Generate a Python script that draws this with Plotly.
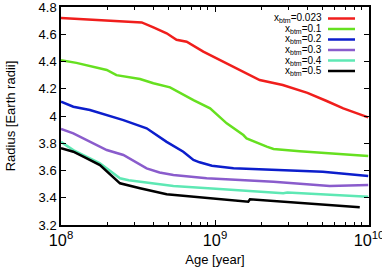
import plotly.graph_objects as go

# Data (log10 age in years, radius in Earth radii)
labels = ["x<sub>btm</sub>=0.023", "x<sub>btm</sub>=0.1", "x<sub>btm</sub>=0.2",
          "x<sub>btm</sub>=0.3", "x<sub>btm</sub>=0.4", "x<sub>btm</sub>=0.5"]
colors = ["#f01e1c", "#66e020", "#0c1ecc", "#8a5ccc", "#5ee8b4", "#000000"]

red_logt = [8.0, 8.524, 8.60, 8.686, 8.75, 8.816, 8.924, 9.03, 9.12, 9.205, 9.227, 9.29, 9.44, 9.60, 9.725, 9.833, 9.995]
red_r = [4.72, 4.687, 4.65, 4.607, 4.56, 4.545, 4.472, 4.41, 4.36, 4.31, 4.30, 4.264, 4.228, 4.17, 4.11, 4.056, 3.99]

green_logt = [8.0, 8.10, 8.297, 8.36, 8.513, 8.60, 8.708, 8.794, 8.86, 8.968, 9.076, 9.184, 9.205, 9.336, 9.38, 9.55, 9.70, 9.745, 9.995]
green_r = [4.41, 4.39, 4.338, 4.30, 4.272, 4.24, 4.21, 4.154, 4.117, 4.056, 3.946, 3.86, 3.836, 3.775, 3.758, 3.742, 3.73, 3.721, 3.706]

blue_logt = [8.0, 8.08, 8.188, 8.297, 8.405, 8.556, 8.686, 8.794, 8.86, 8.90, 8.98, 9.12, 9.38, 9.70, 9.995]
blue_r = [4.105, 4.068, 4.044, 4.007, 3.97, 3.91, 3.81, 3.738, 3.677, 3.66, 3.635, 3.616, 3.604, 3.591, 3.56]

purple_logt = [8.0, 8.08, 8.297, 8.405, 8.556, 8.64, 8.73, 8.946, 9.38, 9.745, 9.995]
purple_r = [3.905, 3.873, 3.75, 3.714, 3.616, 3.585, 3.567, 3.543, 3.518, 3.486, 3.494]

cyan_logt = [8.0, 8.08, 8.253, 8.383, 8.44, 8.513, 8.73, 9.054, 9.443, 9.47, 9.995]
cyan_r = [3.81, 3.75, 3.653, 3.543, 3.528, 3.518, 3.486, 3.462, 3.433, 3.438, 3.408]

black_logt = [8.0, 8.08, 8.145, 8.253, 8.383, 8.44, 8.513, 8.686, 8.946, 9.216, 9.227, 9.595, 9.94]
black_r = [3.763, 3.738, 3.701, 3.64, 3.506, 3.488, 3.47, 3.425, 3.40, 3.371, 3.389, 3.36, 3.33]

series = [(red_logt, red_r), (green_logt, green_r), (blue_logt, blue_r),
          (purple_logt, purple_r), (cyan_logt, cyan_r), (black_logt, black_r)]

FONT = "Liberation Sans, Arial"

fig = go.Figure()
for (lt, r), name, c in zip(series, labels, colors):
    fig.add_trace(go.Scatter(x=[10 ** v for v in lt], y=r, mode="lines", name=name,
                             line=dict(color=c, width=2.5), showlegend=False))

# Manual legend (text right-aligned, sample line on the right)
for i, (name, c) in enumerate(zip(labels, colors)):
    yy = 1 - (11.5 + 10.5 * i) / 218.0
    fig.add_annotation(x=(323 - 61) / 308.0, y=yy, xref="paper", yref="paper",
                       text=name, showarrow=False, xanchor="right", yanchor="middle",
                       font=dict(size=10, color="black", family=FONT), borderpad=0)
    fig.add_shape(type="line", xref="paper", yref="paper",
                  x0=(328 - 61) / 308.0, x1=(355 - 61) / 308.0, y0=yy, y1=yy,
                  line=dict(color=c, width=2.5))

axis_common = dict(showline=True, linecolor="black", linewidth=1.5, mirror="allticks",
                   ticks="inside", ticklen=5, tickcolor="black", showgrid=False,
                   zeroline=False, ticklabeloverflow="allow",
                   tickfont=dict(size=13, color="black", family=FONT))

fig.update_xaxes(type="log", range=[8, 10], dtick=1, exponentformat="power",
                 minor=dict(ticks="inside", ticklen=3, tickcolor="black", dtick="D1", showgrid=False),
                 title=dict(text="Age [year]", font=dict(size=13, color="black", family=FONT), standoff=7),
                 **axis_common)
fig.update_yaxes(range=[3.2, 4.8], dtick=0.2,
                 title=dict(text="Radius [Earth radii]", font=dict(size=13, color="black", family=FONT), standoff=20),
                 **axis_common)

fig.update_layout(width=382, height=270, margin=dict(l=61, r=13, t=7, b=45, autoexpand=False),
                  plot_bgcolor="white", paper_bgcolor="white",
                  font=dict(family=FONT, color="black"))

fig.write_html("out.html", config={"displayModeBar": False},
               post_script="document.body.style.margin='0';document.body.style.overflow='hidden';")
